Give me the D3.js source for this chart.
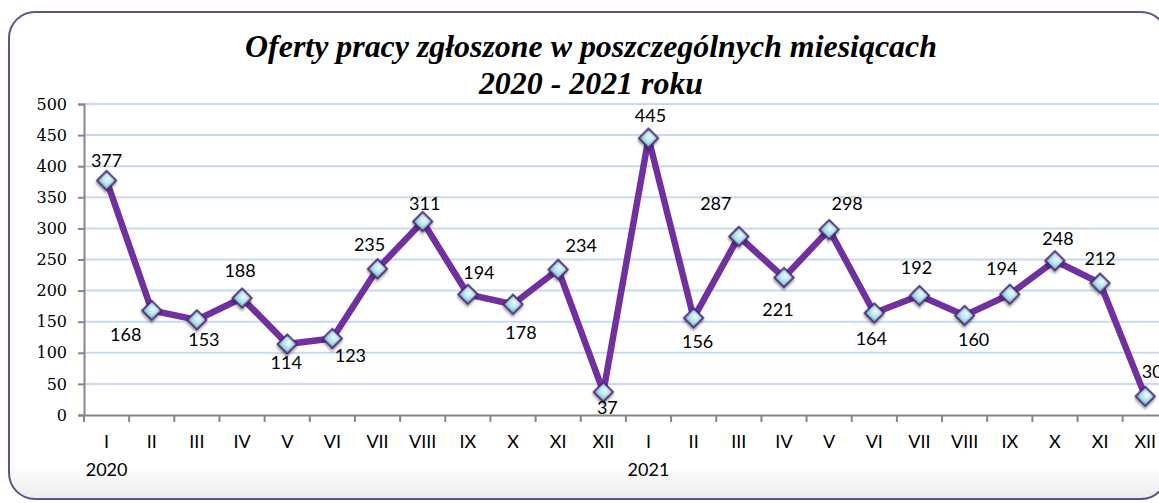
<!DOCTYPE html>
<html>
<head>
<meta charset="utf-8">
<script src="https://cdn.jsdelivr.net/npm/d3@7"></script>
<style>
  html, body { margin: 0; padding: 0; background: #ffffff; }
  svg { display: block; }
</style>
</head>
<body>
<svg id="chart" width="1159" height="503"></svg>
<script>
// ---- data ----
const months = ["I","II","III","IV","V","VI","VII","VIII","IX","X","XI","XII",
                "I","II","III","IV","V","VI","VII","VIII","IX","X","XI","XII"];
const years = ["2020","","","","","","","","","","","",
               "2021","","","","","","","","","","",""];
const offers = [377,168,153,188,114,123,235,311,194,178,234,37,
                445,156,287,221,298,164,192,160,194,248,212,30];
const yTicks = [0,50,100,150,200,250,300,350,400,450,500];
const titleLines = ["Oferty pracy zgłoszone w poszczególnych miesiącach", "2020 - 2021 roku"];
// label nudges (dx, dy of baseline relative to point), as placed in the original
const labelNudge = [[0,-14],[-26,30],[7,26],[-2,-21],[-1,25],[18,24],[-8,-18],[2,-12],
                    [11,-15],[8,35],[23,-17],[4,22],[2,-16],[4,30],[-23,-26],[-6,38],
                    [18,-20],[-3,32],[-3,-22],[9,31],[-8,-19],[3,-16],[0,-18],[7,-18]];

const svg = d3.select("#chart");
const defs = svg.append("defs");

// frame gradient
const fg = defs.append("linearGradient").attr("id","frameGrad").attr("x1",0).attr("y1",0).attr("x2",0).attr("y2",1);
fg.append("stop").attr("offset","0").attr("stop-color","#ffffff");
fg.append("stop").attr("offset","0.93").attr("stop-color","#ffffff");
fg.append("stop").attr("offset","1").attr("stop-color","#ececec");

const mg = defs.append("radialGradient").attr("id","markGrad").attr("cx","0.5").attr("cy","0.35").attr("r","0.6");
mg.append("stop").attr("offset","0").attr("stop-color","#eefbfc");
mg.append("stop").attr("offset","0.6").attr("stop-color","#b8e6ec");
mg.append("stop").attr("offset","1").attr("stop-color","#8fd0da");

const sh = defs.append("filter").attr("id","mshadow").attr("x","-50%").attr("y","-50%").attr("width","200%").attr("height","200%");
sh.append("feDropShadow").attr("dx",1.5).attr("dy",2).attr("stdDeviation",1.2).attr("flood-color","#000").attr("flood-opacity",0.35);

// frame (extends past the right edge, as in the original)
svg.append("rect").attr("x",9).attr("y",12).attr("width",1158).attr("height",487)
   .attr("rx",26).attr("ry",26)
   .attr("fill","url(#frameGrad)").attr("stroke","#65508a").attr("stroke-width",2);

// scales
const x0 = 84, plotW = 45.16 * months.length;
const x = d3.scaleBand().domain(d3.range(months.length)).range([x0, x0 + plotW]).padding(0);
const y = d3.scaleLinear().domain([0,500]).range([415,104]);

// gridlines
svg.append("g").selectAll("line").data(yTicks.filter(t => t > 0)).join("line")
  .attr("x1", x0).attr("x2", x0 + plotW)
  .attr("y1", d => y(d)).attr("y2", d => y(d))
  .attr("stroke","#c6d9f0").attr("stroke-width",2);

// y axis
const yAxis = svg.append("g").attr("transform",`translate(${x0},0)`)
  .call(d3.axisLeft(y).tickValues(yTicks).tickSize(6).tickPadding(11).tickFormat(d3.format("d")));
yAxis.select(".domain").attr("stroke","#868686").attr("stroke-width",2);
yAxis.selectAll(".tick line").attr("stroke","#868686").attr("stroke-width",2);
yAxis.selectAll(".tick text").attr("font-family","'DejaVu Serif', serif").attr("font-size","16px").attr("fill","#000");

// x axis
const xAxis = svg.append("g").attr("transform","translate(0,415)")
  .call(d3.axisBottom(x).tickValues([]).tickSizeOuter(0));
xAxis.select(".domain").attr("stroke","#868686").attr("stroke-width",2);
const bounds = d3.range(months.length + 1).map(i => x0 + i * x.bandwidth());
svg.append("g").selectAll("line").data(bounds).join("line")
  .attr("x1", d => d).attr("x2", d => d).attr("y1",415).attr("y2",422)
  .attr("stroke","#868686").attr("stroke-width",2);

svg.append("g").selectAll("text").data(months).join("text")
  .attr("x", (d,i) => x(i) + x.bandwidth()/2).attr("y", 448)
  .attr("text-anchor","middle").attr("font-family","Lato, sans-serif").attr("font-size","18px").attr("fill","#000")
  .text(d => d);
svg.append("g").selectAll("text").data(years).join("text")
  .attr("x", (d,i) => x(i) + x.bandwidth()/2).attr("y", 476)
  .attr("text-anchor","middle").attr("font-family","Lato, sans-serif").attr("font-size","18px").attr("fill","#000")
  .text(d => d);

// line
const cx = i => x(i) + x.bandwidth()/2;
const line = d3.line().x((d,i) => cx(i)).y(d => y(d));
svg.append("path").datum(offers).attr("d", line)
  .attr("fill","none").attr("stroke","#7030a0").attr("stroke-width",6.5).attr("stroke-linejoin","miter");

// markers
const sym = d3.symbol(d3.symbolSquare, 180);
svg.append("g").selectAll("path").data(offers).join("path")
  .attr("d", sym)
  .attr("transform", (d,i) => `translate(${cx(i)},${y(d)}) rotate(45)`)
  .attr("fill","url(#markGrad)").attr("stroke","#4e2a78").attr("stroke-width",2)
  .attr("filter","url(#mshadow)");

// labels
svg.append("g").selectAll("text").data(offers).join("text")
  .attr("x", (d,i) => cx(i) + labelNudge[i][0])
  .attr("y", (d,i) => y(d) + labelNudge[i][1])
  .attr("text-anchor","middle").attr("font-family","Lato, sans-serif").attr("font-size","18px").attr("fill","#000")
  .text(d => d);

// title
const t1 = svg.append("text").attr("x",591).attr("y",57).attr("text-anchor","middle")
  .attr("font-family","'Liberation Serif', serif").attr("font-weight","bold").attr("font-style","italic")
  .attr("font-size","27px").attr("fill","#000").text(titleLines[0]);
const w1 = t1.node().getComputedTextLength();
const fs = 27 * 692 / w1;
t1.attr("font-size", fs + "px");
svg.append("text").attr("x",591).attr("y",94).attr("text-anchor","middle")
  .attr("font-family","'Liberation Serif', serif").attr("font-weight","bold").attr("font-style","italic")
  .attr("font-size", fs + "px").attr("fill","#000").text(titleLines[1]);
</script>
</body>
</html>
